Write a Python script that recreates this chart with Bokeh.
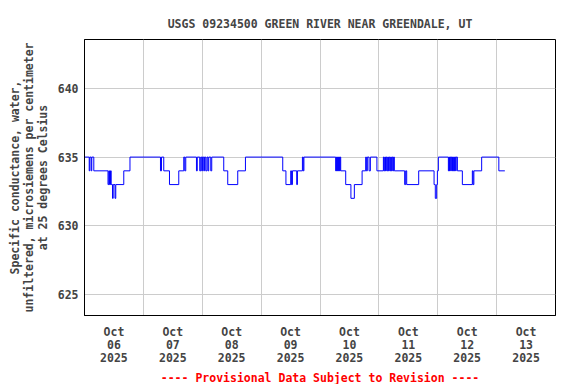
import pandas as pd
from bokeh.plotting import figure
from bokeh.models import FixedTicker, Range1d, Title
from bokeh.embed import file_html
from bokeh.resources import INLINE

# ---- data (hours after 2025-10-06 00:00, value in uS/cm) ----
change_hours = [
    0.0, 1.92, 2.16, 2.73, 2.97, 3.79,
    9.58, 9.9, 10.19, 10.6, 10.88, 11.41, 11.7, 12.43, 12.75, 16.01, 18.54,
    30.97, 31.38, 32.31, 34.64, 38.43, 40.46, 40.87, 41.28,
    45.64, 45.97, 46.98, 47.39, 47.8, 48.08, 48.61, 48.9, 49.43, 49.92,
    50.33, 50.65, 51.47, 51.87,
    56.76, 58.39, 62.47, 65.61,
    80.81, 82.11, 84.07, 84.35, 84.76, 86.51, 86.8, 88.83, 89.16, 89.44,
    102.4, 102.6, 102.8, 103.0, 103.2, 103.4, 103.6, 103.8, 104.0, 104.2,
    104.44, 106.48, 108.6, 110.0, 113.16,
    114.63, 114.9, 115.3, 116.0, 116.54, 119.2,
    121.84, 122.1, 122.4, 122.7, 123.0, 123.3, 123.6, 123.9, 124.2, 124.5,
    124.8, 125.1, 125.4, 125.7, 126.0, 126.3,
    130.52, 130.93, 131.34, 136.23,
    142.5, 143.0, 143.56, 143.85, 144.25,
    148.33, 148.55, 148.8, 149.0, 149.3, 149.5, 149.8, 150.0, 150.3, 150.5,
    150.8, 151.0, 151.3, 151.5, 152.0,
    154.03, 158.1, 158.4, 158.72, 161.9, 168.9, 171.35,
]
change_values = [
    635, 634, 635, 634, 635, 634,
    633, 634, 633, 634, 633, 632, 633, 632, 633, 634, 635,
    634, 635, 634, 633, 634, 635, 634, 635,
    634, 635, 634, 635, 634, 635, 634, 635, 634, 635,
    634, 635, 634, 635,
    634, 633, 634, 635,
    634, 633, 634, 633, 634, 633, 634, 635, 634, 635,
    634, 635, 634, 635, 634, 635, 634, 635, 634, 635,
    634, 633, 632, 633, 634,
    635, 634, 635, 634, 635, 634,
    635, 634, 635, 634, 635, 634, 635, 634, 635, 634,
    635, 634, 635, 634, 635, 634,
    633, 634, 633, 634,
    633, 632, 633, 634, 635,
    634, 635, 634, 635, 634, 635, 634, 635, 634, 635,
    634, 635, 634, 635, 634,
    633, 634, 633, 634, 635, 634, 634,
]
day_labels = ["Oct\n06\n2025", "Oct\n07\n2025", "Oct\n08\n2025", "Oct\n09\n2025",
              "Oct\n10\n2025", "Oct\n11\n2025", "Oct\n12\n2025", "Oct\n13\n2025"]
y_ticks = [625, 630, 635, 640]

start = pd.Timestamp("2025-10-06")
times = [start + pd.Timedelta(hours=h) for h in change_hours]

def ms(ts):
    return float(ts.value // 10**6)

FONT = "DejaVu Sans Mono"

p = figure(width=576, height=384, x_axis_type="datetime",
           output_backend="svg", toolbar_location=None,
           x_range=Range1d(ms(start), ms(start + pd.Timedelta(days=8))),
           y_range=Range1d(623.48, 643.55),
           min_border_left=84, min_border_right=21,
           min_border_top=39, min_border_bottom=68)

p.step(times, change_values, mode="after", line_color="#0000ff", line_width=1)

p.title.text = "USGS 09234500 GREEN RIVER NEAR GREENDALE, UT"
p.title.text_font = FONT
p.title.text_font_size = "11.5px"
p.title.text_font_style = "bold"
p.title.align = "center"
p.title.standoff = 18

noons = [ms(start + pd.Timedelta(hours=12 + 24 * i)) for i in range(8)]
midnights = [ms(start + pd.Timedelta(days=i)) for i in range(1, 8)]

xa = p.xaxis[0]
xa.ticker = FixedTicker(ticks=noons)
xa.major_label_overrides = {t: lab for t, lab in zip(noons, day_labels)}
xa.major_tick_line_color = None
xa.minor_tick_line_color = None
xa.major_tick_out = 0
xa.major_tick_in = 0
xa.minor_tick_out = 0
xa.minor_tick_in = 0
xa.major_label_standoff = 9
xa.major_label_text_font = FONT
xa.major_label_text_font_size = "11.5px"
xa.major_label_text_font_style = "bold"
xa.major_label_text_line_height = 0.96
xa.axis_line_color = "black"
p.xgrid.ticker = FixedTicker(ticks=midnights)

ya = p.yaxis[0]
ya.ticker = FixedTicker(ticks=y_ticks)
ya.major_tick_line_color = None
ya.minor_tick_line_color = None
ya.major_tick_out = 0
ya.major_tick_in = 0
ya.minor_tick_out = 0
ya.minor_tick_in = 0
ya.major_label_standoff = 6
ya.major_label_text_font = FONT
ya.major_label_text_font_size = "11.5px"
ya.major_label_text_font_style = "bold"
ya.axis_label = "Specific conductance, water,\nunfiltered, microsiemens per centimeter\nat 25 degrees Celsius"
ya.axis_label_text_font = FONT
ya.axis_label_text_font_size = "11.5px"
ya.axis_label_text_font_style = "bold"
ya.axis_label_text_line_height = 1.0
ya.axis_label_standoff = 5
ya.axis_line_color = "black"

for g in (p.xgrid, p.ygrid):
    g.grid_line_color = "#cccccc"
    g.grid_line_width = 1

p.outline_line_color = "black"
p.outline_line_width = 1
p.background_fill_color = "white"
p.border_fill_color = "white"

note = Title(text="---- Provisional Data Subject to Revision ----",
             text_font=FONT, text_font_size="11.5px", text_font_style="bold",
             text_color="red", align="center", standoff=0)
p.add_layout(note, "below")

open("out.html", "w").write(file_html(p, INLINE))
